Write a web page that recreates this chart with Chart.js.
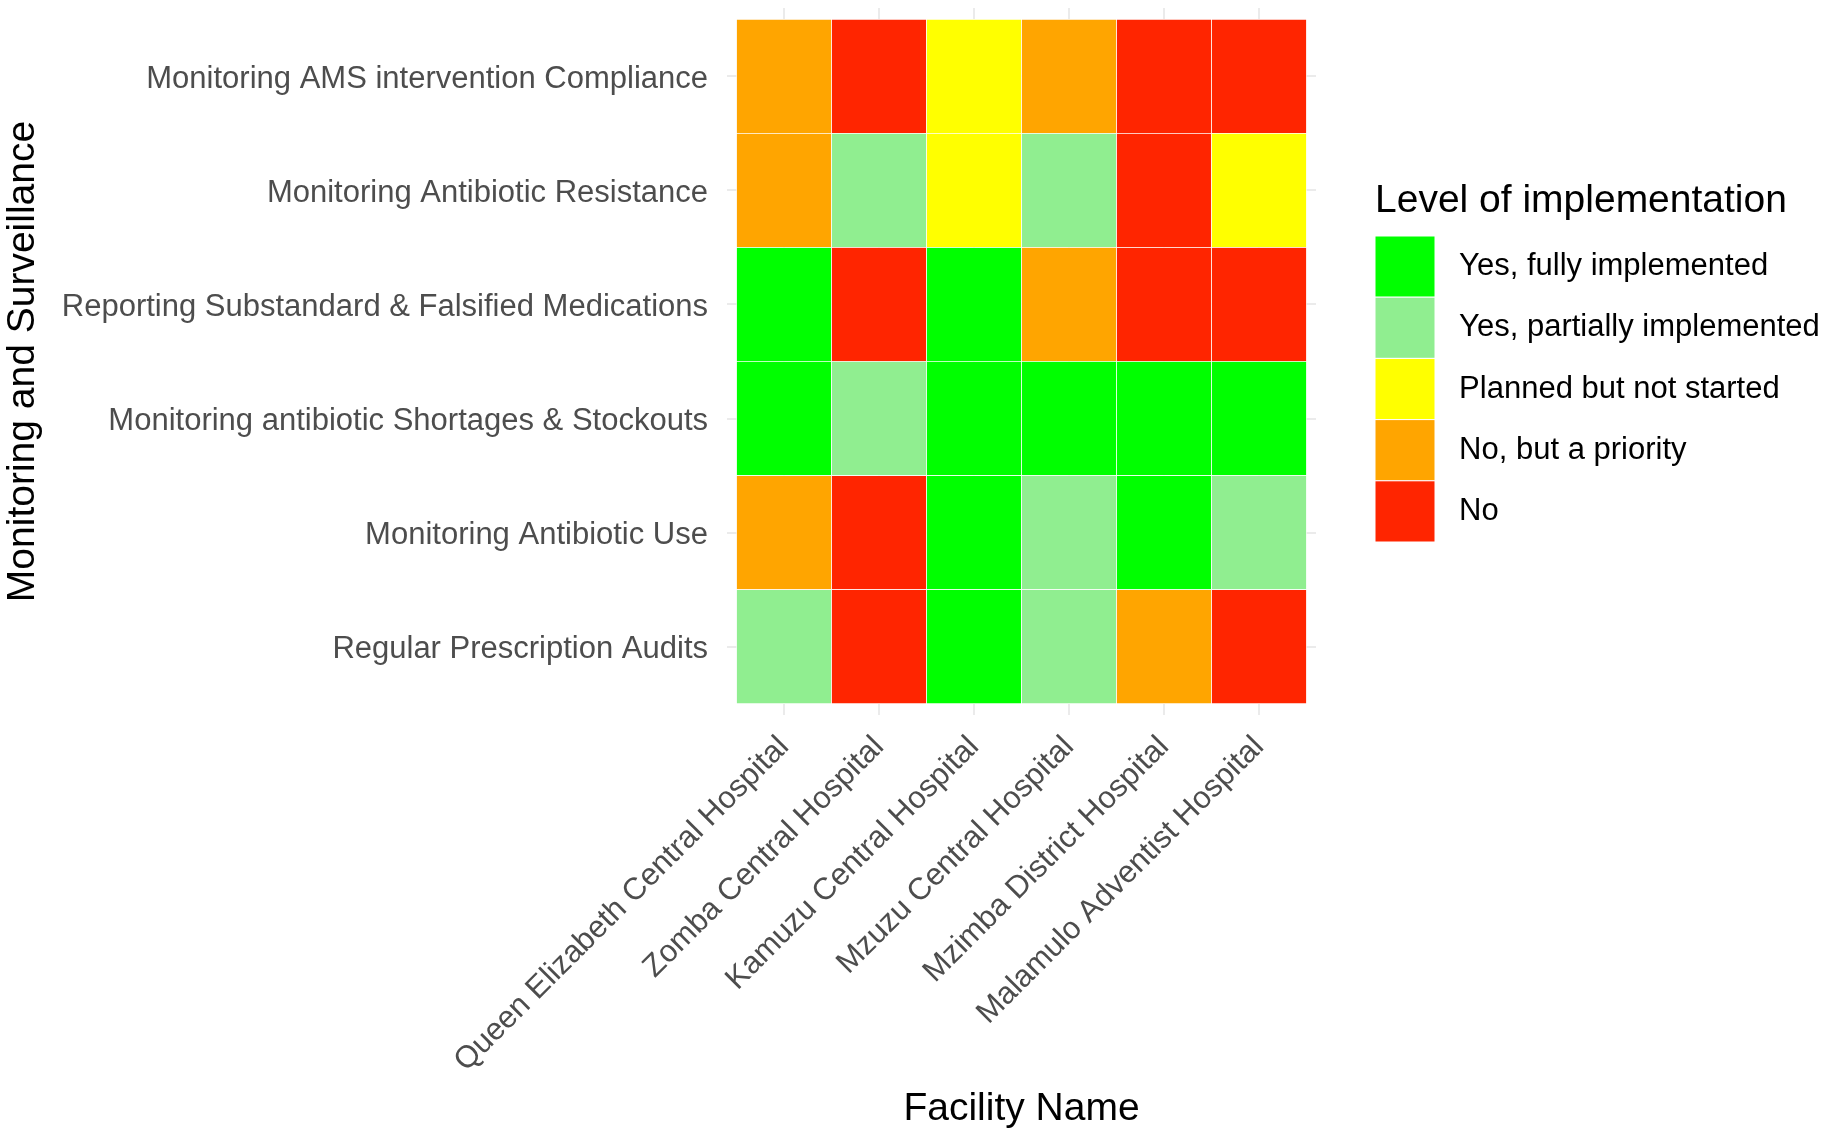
<!DOCTYPE html>
<html>
<head>
<meta charset="utf-8">
<title>Monitoring and Surveillance</title>
<script src="https://cdn.jsdelivr.net/npm/chart.js@4/dist/chart.umd.min.js"></script>
<style>
  html, body { margin: 0; padding: 0; background: #fff; }
  canvas { display: block; }
</style>
</head>
<body>
<canvas id="heat" width="1831" height="1139"></canvas>
<script>
// facilities, left to right
var facilities = ['Queen Elizabeth Central Hospital', 'Zomba Central Hospital', 'Kamuzu Central Hospital',
                  'Mzuzu Central Hospital', 'Mzimba District Hospital', 'Malamulo Adventist Hospital'];

// activities, top row first
var activities = ['Monitoring AMS intervention Compliance', 'Monitoring Antibiotic Resistance',
                  'Reporting Substandard & Falsified Medications', 'Monitoring antibiotic Shortages & Stockouts',
                  'Monitoring Antibiotic Use', 'Regular Prescription Audits'];

var levels = ['Yes, fully implemented', 'Yes, partially implemented', 'Planned but not started', 'No, but a priority', 'No'];
var levelColors = ['#00ff00', '#90ee90', '#ffff00', '#ffa500', '#ff2500'];

// level per facility (index into levels), one array per activity
var amsCompliance = [3, 4, 2, 3, 4, 4];
var abResistance  = [3, 1, 2, 1, 4, 2];
var reportingSF   = [0, 4, 0, 3, 4, 4];
var shortages     = [0, 1, 0, 0, 0, 0];
var abUse         = [3, 4, 0, 1, 0, 1];
var rxAudits      = [1, 4, 0, 1, 3, 4];

var rows = [amsCompliance, abResistance, reportingSF, shortages, abUse, rxAudits];

// stacked bars grow from the bottom, so first dataset = bottom row
var rowsUp = rows.slice().reverse();
var namesUp = activities.slice().reverse();

var datasets = rowsUp.map(function (row, r) {
    return {
        label: namesUp[r],
        data: facilities.map(function (f, i) { return { x: i, y: 1 }; }),
        backgroundColor: row.map(function (lv) { return levelColors[lv]; }),
        borderColor: '#ffffff',
        borderWidth: 0.7,
        borderSkipped: false,
        barPercentage: 1,
        categoryPercentage: 1
    };
});

Chart.defaults.font.family = "'Liberation Sans', Arial, Helvetica, sans-serif";

// legend width so that it starts where the reference legend starts
var mctx = document.createElement('canvas').getContext('2d');
mctx.font = "31px 'Liberation Sans', Arial, Helvetica, sans-serif";
var textW = 0;
levels.forEach(function (l) { textW = Math.max(textW, mctx.measureText(' ' + l).width); });
var legendW = 60 + 15.5 + textW;
var padRight = 1831 - 1375 - legendW;

// no extra room for label overhang, the layout is fixed below
function noPad(axis) {
    axis.paddingTop = axis.paddingBottom = axis.paddingLeft = axis.paddingRight = 0;
}

new Chart(document.getElementById('heat'), {
    type: 'bar',
    data: { datasets: datasets },
    options: {
        responsive: false,
        animation: false,
        layout: { padding: { top: 8, right: padRight, bottom: 0, left: 0 } },
        scales: {
            x: {
                type: 'linear',
                stacked: true,
                offset: false,
                min: -0.6,
                max: 5.6,
                afterBuildTicks: function (axis) {
                    axis.ticks = facilities.map(function (f, i) { return { value: i }; });
                },
                afterFit: function (axis) { axis.height = 1139 - 715; noPad(axis); },
                ticks: {
                    autoSkip: false, minRotation: 45, maxRotation: 45, padding: 14,
                    color: '#4d4d4d', font: { size: 31 },
                    callback: function (v, i) { return facilities[i]; }
                },
                grid: { color: '#ebebeb', lineWidth: 2, drawTicks: false, offset: false },
                border: { display: false },
                title: { display: true, text: 'Facility Name', color: '#000', font: { size: 39 }, padding: { top: 0, bottom: 6 } }
            },
            y: {
                type: 'linear',
                stacked: true,
                min: -0.1,
                max: 6.1,
                afterBuildTicks: function (axis) {
                    axis.ticks = namesUp.map(function (n, i) { return { value: i + 0.5 }; });
                },
                afterFit: function (axis) { axis.width = 727; noPad(axis); },
                ticks: {
                    autoSkip: false, padding: 19, labelOffset: 3, color: '#4d4d4d', font: { size: 31 },
                    callback: function (v, i) { return namesUp[i]; }
                },
                grid: { color: '#ebebeb', lineWidth: 2, drawTicks: false },
                border: { display: false },
                title: { display: true, text: 'Monitoring and Surveillance', color: '#000', font: { size: 39 }, padding: 0 }
            },
            // empty box between the panel and the legend
            gap: {
                type: 'linear',
                position: 'right',
                grid: { display: false },
                ticks: { display: false },
                border: { display: false },
                afterFit: function (axis) { axis.width = 59; noPad(axis); }
            }
        },
        plugins: {
            tooltip: { enabled: false },
            legend: {
                position: 'right',
                align: 'start',
                maxWidth: legendW,
                onClick: function () {},
                title: {
                    display: true, text: 'Level of implementation', position: 'start',
                    color: '#000', font: { size: 39 }, padding: { top: 174, bottom: 7.2 }
                },
                labels: {
                    boxWidth: 60, boxHeight: 61.2, padding: 0, color: '#1a1a1a', font: { size: 31 },
                    generateLabels: function () {
                        return levels.map(function (lv, i) {
                            return { text: ' ' + lv, fillStyle: levelColors[i], strokeStyle: '#ffffff',
                                     lineWidth: 1, hidden: false, textAlign: 'left' };
                        });
                    }
                }
            }
        }
    }
});
</script>
</body>
</html>
